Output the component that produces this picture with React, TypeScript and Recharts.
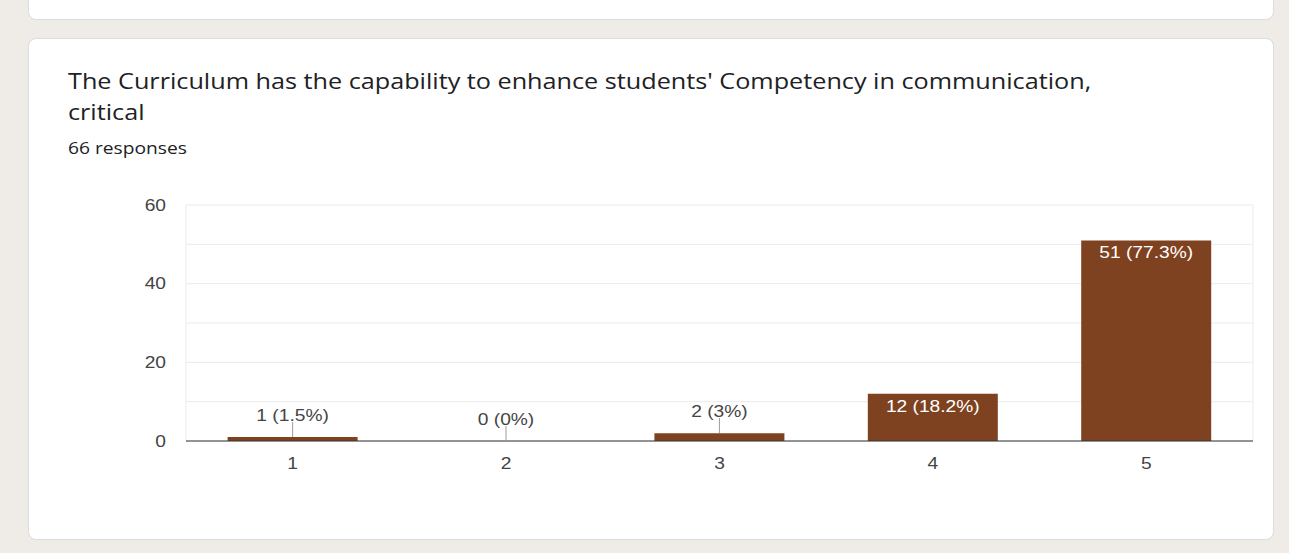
import React from 'react';
import { BarChart, Bar, XAxis, YAxis, CartesianGrid, LabelList } from 'recharts';

const CATEGORIES = ['1', '2', '3', '4', '5'];
const COUNTS = [1, 0, 2, 12, 51];
const TOTAL_RESPONSES = 66;
const Y_TICKS = [0, 10, 20, 30, 40, 50, 60];
const Y_LABELED = [0, 20, 40, 60];

const TITLE = "The Curriculum has the capability to enhance students' Competency in communication,";
const TITLE_LINE2 = 'critical';

const BAR_COLOR = '#7f4220';
const CHART_FONT = '"Liberation Sans", Arial, sans-serif';
const TEXT_FONT = '"Open Sans", sans-serif';
// the screenshot is stretched sideways a little, so text is widened to match
const STRETCH = 1.2;

const data = CATEGORIES.map((name, i) => ({ name, value: COUNTS[i] }));

const pct = (v: number) => `${v} (${parseFloat(((v / TOTAL_RESPONSES) * 100).toFixed(1))}%)`;

function SText({ x, y, anchor = 'middle', fill = '#444444', dy = '0.355em', children }: any) {
  return (
    <text
      x={x}
      y={y}
      dy={dy}
      textAnchor={anchor}
      fill={fill}
      fontSize={16}
      fontFamily={CHART_FONT}
      transform={`translate(${x} 0) scale(${STRETCH} 1) translate(${-x} 0)`}
    >
      {children}
    </text>
  );
}

// labels sit inside tall bars, small bars get a label above with a leader line
function BarLabel(props: any) {
  const { x, y, width, height, value } = props;
  const cx = x + width / 2;
  const h = Math.abs(height || 0);
  const top = Math.round(height < 0 ? y + height : y);
  if (h > 30) {
    return <SText x={cx} y={top + 12} fill="#ffffff">{pct(value)}</SText>;
  }
  return (
    <g>
      <line x1={cx} x2={cx} y1={top - 15} y2={top} stroke="#9e9e9e" strokeWidth={1} />
      <SText x={cx} y={top - 22}>{pct(value)}</SText>
    </g>
  );
}

function YTick(props: any) {
  const { x, y, payload } = props;
  if (!Y_LABELED.includes(payload.value)) return null;
  return <SText x={x} y={y} anchor="end">{payload.value}</SText>;
}

function XTick(props: any) {
  const { x, y, payload } = props;
  return <SText x={x} y={y} dy="0.71em">{payload.value}</SText>;
}

export default function App() {
  const textStyle: React.CSSProperties = {
    position: 'absolute',
    left: 68,
    whiteSpace: 'nowrap',
    fontFamily: TEXT_FONT,
    color: '#202124',
    transform: `scaleX(${STRETCH})`,
    transformOrigin: 'left top',
  };
  return (
    <div style={{ position: 'absolute', left: 0, top: 0, width: 1289, height: 553, background: '#efebe7', overflow: 'hidden' }}>
      <div style={{ position: 'absolute', left: 28, top: -20, width: 1244, height: 38, background: '#fff', border: '1px solid #dadce0', borderRadius: 8 }} />
      <div style={{ position: 'absolute', left: 28, top: 38, width: 1244, height: 500, background: '#fff', border: '1px solid #dadce0', borderRadius: 8 }} />
      <div style={{ ...textStyle, top: 66, fontSize: 21, lineHeight: '31px' }}>
        {TITLE}
        <br />
        {TITLE_LINE2}
      </div>
      <div style={{ ...textStyle, top: 138, fontSize: 16, lineHeight: '20px' }}>
        {TOTAL_RESPONSES} responses
      </div>
      <div style={{ position: 'absolute', left: 0, top: 0 }}>
        <BarChart width={1289} height={553} data={data} margin={{ top: 205, right: 36, bottom: 82, left: 126 }} barCategoryGap="19.5%">
          <CartesianGrid
            stroke="#ebebeb"
            verticalCoordinatesGenerator={({ offset }: any) => [offset.left, offset.left + offset.width]}
          />
          <XAxis
            dataKey="name"
            height={30}
            axisLine={{ stroke: '#333333' }}
            tickLine={false}
            tickSize={0}
            tickMargin={17}
            tick={<XTick />}
          />
          <YAxis
            width={60}
            domain={[0, 60]}
            ticks={Y_TICKS}
            axisLine={false}
            tickLine={false}
            tickSize={0}
            tickMargin={20}
            tick={<YTick />}
          />
          <Bar
            dataKey="value"
            fill={BAR_COLOR}
            minPointSize={(v: number) => (v === 0 ? 0.01 : 0)}
            isAnimationActive={false}
          >
            <LabelList dataKey="value" content={<BarLabel />} />
          </Bar>
        </BarChart>
      </div>
    </div>
  );
}
